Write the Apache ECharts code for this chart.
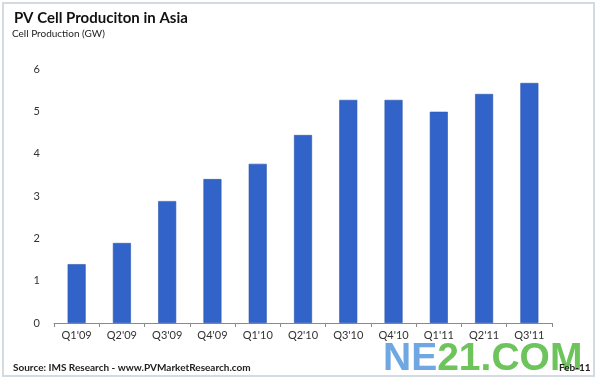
<!DOCTYPE html>
<html>
<head>
<meta charset="utf-8">
<script src="https://cdn.jsdelivr.net/npm/echarts@6/dist/echarts.min.js"></script>
<style>
html,body{margin:0;padding:0;background:#fff;}
#chart{width:600px;height:383px;}
</style>
</head>
<body>
<div id="chart"></div>
<script>
const categories = ["Q1'09","Q2'09","Q3'09","Q4'09","Q1'10","Q2'10","Q3'10","Q4'10","Q1'11","Q2'11","Q3'11"];
const production = [1.39, 1.89, 2.88, 3.40, 3.76, 4.44, 5.27, 5.27, 4.99, 5.41, 5.67];
const yTicks = [0, 1, 2, 3, 4, 5, 6];
const titleText = "PV Cell Produciton in Asia";
const subtitleText = "Cell Production (GW)";
const sourceText = "Source: IMS Research - www.PVMarketResearch.com";
const dateText = "Feb-11";

const chart = echarts.init(document.getElementById('chart'), null, {renderer: 'canvas'});
const font = "Lato, 'Open Sans', sans-serif";
chart.setOption({
  backgroundColor: '#ffffff',
  animation: false,
  title: [
    {text: titleText, left: 9, top: 6, textStyle: {fontFamily: font, fontSize: 15, fontWeight: 'bold', color: '#111'}},
    {text: subtitleText, left: 7, top: 24, textStyle: {fontFamily: font, fontSize: 10, fontWeight: 'normal', color: '#222'}}
  ],
  grid: {left: 54, right: 48, top: 69, bottom: 60, containLabel: false},
  xAxis: {
    type: 'category',
    data: categories,
    axisLine: {lineStyle: {color: '#8a8a8a', width: 1}},
    axisTick: {show: true, length: 4, lineStyle: {color: '#8a8a8a'}},
    axisLabel: {fontFamily: font, fontSize: 11, color: '#333', margin: 7, interval: 0}
  },
  yAxis: {
    type: 'value',
    min: yTicks[0], max: yTicks[yTicks.length - 1], interval: 1,
    axisLine: {show: false},
    axisTick: {show: false},
    splitLine: {show: false},
    axisLabel: {fontFamily: font, fontSize: 11, color: '#333', margin: 14}
  },
  series: [{
    type: 'bar',
    data: production,
    barWidth: 18,
    itemStyle: {color: '#3263c8', borderColor: '#2a55b0', borderWidth: 0.6}
  }],
  graphic: [
    {type: 'rect', shape: {x: 3, y: 3, width: 591, height: 373}, style: {fill: 'none', stroke: '#d3dbe1', lineWidth: 2}, z: 0},
    {type: 'text', left: 13, top: 363, style: {text: sourceText, font: "bold 10px " + font, fill: '#222'}, z: 10},
    {type: 'text', left: 383, top: 340, style: {
      text: '{a|NE}{b|21.COM}',
      rich: {
        a: {fontFamily: "'Liberation Sans', sans-serif", fontSize: 39, fill: '#6fa7e2', fontWeight: 'bold'},
        b: {fontFamily: "'Liberation Sans', sans-serif", fontSize: 39, fill: '#6cc45b', fontWeight: 'bold'}
      }
    }, z: 5},
    {type: 'text', left: 559, top: 363, style: {text: dateText, font: "bold 10px " + font, fill: '#222'}, z: 10}
  ]
});
</script>
</body>
</html>
